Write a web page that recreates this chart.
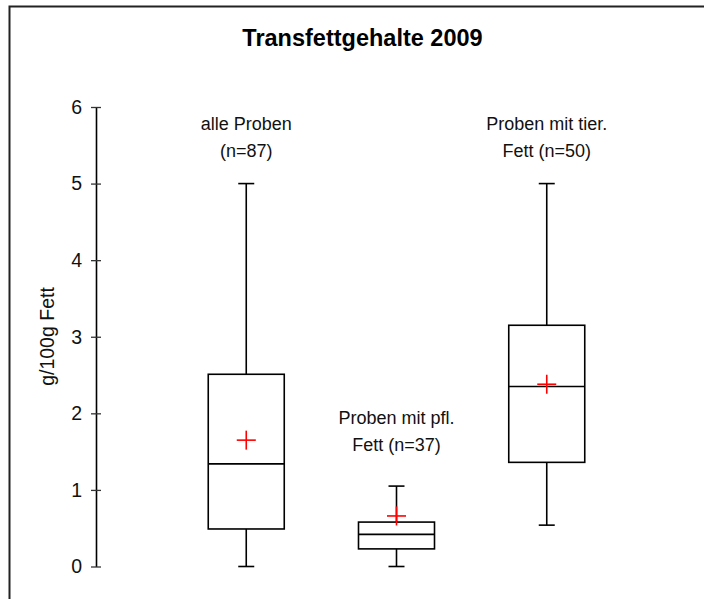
<!DOCTYPE html>
<html>
<head>
<meta charset="utf-8">
<script src="https://cdn.jsdelivr.net/npm/d3@7"></script>
<style>
  body { margin: 0; background: #fff; }
  svg { display: block; font-family: 'Liberation Sans', Arial, sans-serif; }
</style>
</head>
<body>
<div id="wrapper"></div>
<script>
// ---------------------------------------------------
// 1. DATA
// ---------------------------------------------------
const groups = ['alle', 'pfl', 'tier']
const labelLine1 = ['alle Proben', 'Proben mit pfl.', 'Proben mit tier.']
const labelLine2 = ['(n=87)', 'Fett (n=37)', 'Fett (n=50)']
const minValues = [0, 0, 0.54]
const q1Values = [0.49, 0.23, 1.36]
const medianValues = [1.34, 0.42, 2.35]
const q3Values = [2.51, 0.58, 3.15]
const maxValues = [5, 1.05, 5]
const meanValues = [1.65, 0.66, 2.38]
const yTicks = [0, 1, 2, 3, 4, 5, 6]

const data = groups.map((g, i) => ({
  group: g,
  min: minValues[i],
  q1: q1Values[i],
  median: medianValues[i],
  q3: q3Values[i],
  max: maxValues[i],
  mean: meanValues[i],
  line1: labelLine1[i],
  line2: labelLine2[i],
}))

// ---------------------------------------------------
// 2. DIMENSIONS
// ---------------------------------------------------
const dimensions = {
  width: 704,
  height: 599,
  axisX: 96,
  right: 697,
  yTop: 107,
  yBottom: 566.5,
  boxWidth: 76,
  capWidth: 16,
  crossSize: 19,
}

// label distance above the top whisker, in px
const labelLift = { alle: 54, pfl: 62, tier: 54 }

// ---------------------------------------------------
// 3. CANVAS
// ---------------------------------------------------
const svg = d3
  .select('#wrapper')
  .append('svg')
  .attr('width', dimensions.width)
  .attr('height', dimensions.height)

// outer frame (runs off the right and bottom edges)
svg
  .append('rect')
  .attr('x', 9.5)
  .attr('y', 6.5)
  .attr('width', 720)
  .attr('height', 620)
  .attr('fill', 'none')
  .attr('stroke', '#222')
  .attr('stroke-width', 2)

// ---------------------------------------------------
// 4. SCALES
// ---------------------------------------------------
const xScale = d3
  .scalePoint()
  .domain(groups)
  .range([dimensions.axisX, dimensions.right])
  .padding(1)

const yScale = d3
  .scaleLinear()
  .domain([0, 6])
  .range([dimensions.yBottom, dimensions.yTop])

// ---------------------------------------------------
// 5. DRAW DATA
// ---------------------------------------------------
const boxes = svg
  .append('g')
  .selectAll('g')
  .data(data)
  .enter()
  .append('g')
  .attr('stroke', '#000')
  .attr('stroke-width', 1.6)
  .attr('fill', 'none')

// whiskers
boxes
  .append('line')
  .attr('x1', (d) => xScale(d.group))
  .attr('x2', (d) => xScale(d.group))
  .attr('y1', (d) => yScale(d.max))
  .attr('y2', (d) => yScale(d.min))

// caps
boxes
  .selectAll('.cap')
  .data((d) => [d, d].map((v, k) => ({ g: v.group, val: k ? v.min : v.max })))
  .enter()
  .append('line')
  .attr('class', 'cap')
  .attr('x1', (d) => xScale(d.g) - dimensions.capWidth / 2)
  .attr('x2', (d) => xScale(d.g) + dimensions.capWidth / 2)
  .attr('y1', (d) => yScale(d.val))
  .attr('y2', (d) => yScale(d.val))

// box
boxes
  .append('rect')
  .attr('x', (d) => xScale(d.group) - dimensions.boxWidth / 2)
  .attr('width', dimensions.boxWidth)
  .attr('y', (d) => yScale(d.q3))
  .attr('height', (d) => yScale(d.q1) - yScale(d.q3))
  .attr('fill', '#fff')

// median
boxes
  .append('line')
  .attr('x1', (d) => xScale(d.group) - dimensions.boxWidth / 2)
  .attr('x2', (d) => xScale(d.group) + dimensions.boxWidth / 2)
  .attr('y1', (d) => yScale(d.median))
  .attr('y2', (d) => yScale(d.median))

// mean cross
const cross = boxes.append('g').attr('stroke', '#ff0000').attr('stroke-width', 1.6)
cross
  .append('line')
  .attr('x1', (d) => xScale(d.group) - dimensions.crossSize / 2)
  .attr('x2', (d) => xScale(d.group) + dimensions.crossSize / 2)
  .attr('y1', (d) => yScale(d.mean))
  .attr('y2', (d) => yScale(d.mean))
cross
  .append('line')
  .attr('x1', (d) => xScale(d.group))
  .attr('x2', (d) => xScale(d.group))
  .attr('y1', (d) => yScale(d.mean) - dimensions.crossSize / 2)
  .attr('y2', (d) => yScale(d.mean) + dimensions.crossSize / 2)

// group labels
const labels = svg
  .append('g')
  .selectAll('text')
  .data(data)
  .enter()
  .append('text')
  .attr('text-anchor', 'middle')
  .attr('font-size', 18)
  .attr('fill', '#111')
  .attr('x', (d) => xScale(d.group))
  .attr('y', (d) => yScale(d.max) - labelLift[d.group])

labels.append('tspan').text((d) => d.line1)
labels
  .append('tspan')
  .attr('x', (d) => xScale(d.group))
  .attr('dy', 27)
  .text((d) => d.line2)

// ---------------------------------------------------
// 6. PERIPHERALS
// ---------------------------------------------------
const yAxisGenerator = d3
  .axisLeft(yScale)
  .tickValues(yTicks)
  .tickFormat(d3.format('d'))
  .tickSizeInner(0)
  .tickSizeOuter(0)
  .tickPadding(14)

const yAxis = svg
  .append('g')
  .attr('transform', `translate(${dimensions.axisX},0)`)
  .call(yAxisGenerator)

yAxis.select('.domain').attr('stroke', '#000').attr('stroke-width', 1.6)
yAxis
  .selectAll('.tick line')
  .attr('x1', -5)
  .attr('x2', 5)
  .attr('stroke', '#333')
  .attr('stroke-width', 1.3)
yAxis
  .selectAll('.tick text')
  .attr('font-size', 19.5)
  .attr('font-family', "'Liberation Sans', Arial, sans-serif")
  .attr('fill', '#111')

svg
  .append('text')
  .attr('transform', 'translate(53.5,336.5) rotate(-90)')
  .attr('text-anchor', 'middle')
  .attr('font-size', 19.5)
  .attr('fill', '#111')
  .text('g/100g Fett')

svg
  .append('text')
  .attr('x', 362.5)
  .attr('y', 46)
  .attr('text-anchor', 'middle')
  .attr('font-size', 23.5)
  .attr('font-weight', 'bold')
  .attr('fill', '#000')
  .text('Transfettgehalte 2009')
</script>
</body>
</html>
